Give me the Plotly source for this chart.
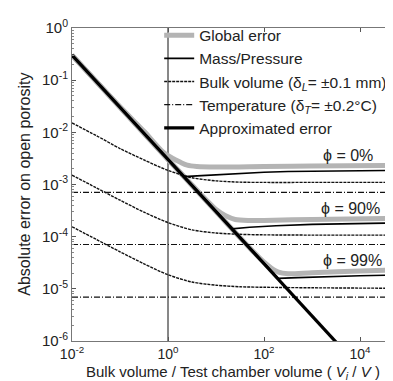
import plotly.graph_objects as go

# ---- data (log10 values) ----
approx_lx = [-2.0, 3.6]
approx_ly = [-0.52, -6.12]

# Global error (gray) for phi = 0 %, 90 %, 99 %
g0_lx = [-2.0, -1.0, -0.5, -0.1, 0.1, 0.25, 0.4, 0.6, 1.0, 2.0, 3.0, 4.86]
g0_ly = [-0.52, -1.51, -1.98, -2.38, -2.5, -2.57, -2.63, -2.655, -2.665, -2.655, -2.645, -2.635]
g90_lx = [-2.0, 0.0, 0.5, 0.8, 1.0, 1.2, 1.4, 1.7, 2.0, 3.0, 4.86]
g90_ly = [-0.52, -2.52, -3.01, -3.3, -3.48, -3.6, -3.67, -3.69, -3.69, -3.67, -3.65]
g99_lx = [-2.0, 1.0, 1.8, 2.0, 2.15, 2.3, 2.5, 3.0, 4.0, 4.86]
g99_ly = [-0.52, -3.52, -4.31, -4.49, -4.6, -4.68, -4.71, -4.69, -4.66, -4.63]

# Mass / Pressure
m0_lx = [-2.0, 0.33, 0.7, 1.25, 2.0, 2.5, 3.5, 4.86]
m0_ly = [-0.52, -2.85, -2.83, -2.8, -2.765, -2.75, -2.74, -2.73]
m90_lx = [-2.0, 1.33, 1.7, 2.25, 3.0, 4.0, 4.86]
m90_ly = [-0.52, -3.85, -3.82, -3.79, -3.765, -3.745, -3.735]
m99_lx = [-2.0, 2.3, 2.7, 3.2, 4.0, 4.86]
m99_ly = [-0.52, -4.8, -4.785, -4.77, -4.75, -4.735]

# Bulk volume
b_lx = [-2.0, -1.5, -1.0, -0.5, 0.0, 0.5, 1.0, 1.5, 2.0, 3.0, 4.86]
b0_ly = [-1.82, -2.06, -2.31, -2.53, -2.73, -2.87, -2.93, -2.955, -2.96, -2.96, -2.96]
b90_ly = [-2.82, -3.06, -3.3, -3.53, -3.73, -3.87, -3.93, -3.955, -3.965, -3.97, -3.97]
b99_ly = [-3.81, -4.05, -4.29, -4.52, -4.73, -4.87, -4.93, -4.96, -4.97, -4.98, -4.99]

# Temperature
t_lx = [-2.0, 4.86]
t0_ly = [-3.15, -3.15]
t90_ly = [-4.15, -4.15]
t99_ly = [-5.16, -5.16]

labels_text = ["\u03d5 = 0%", "\u03d5 = 90%", "\u03d5 = 99%"]
labels_lx = [3.75, 3.81, 3.85]
labels_ly = [-2.44, -3.46, -4.46]

x_tick_exp = [-2, 0, 2, 4]
y_tick_exp = [-6, -5, -4, -3, -2, -1, 0]

x_title = "Bulk volume / Test chamber volume ( <i>V</i><sub><i>i</i></sub> / <i>V</i> )"
y_title = "Absolute error on open porosity"

def p(v):
    return [10 ** a for a in v]

fig = go.Figure()

GRAY = "#b4b4b4"
for i, (lx, ly) in enumerate([(g0_lx, g0_ly), (g90_lx, g90_ly), (g99_lx, g99_ly)]):
    fig.add_trace(go.Scatter(x=p(lx), y=p(ly), mode="lines", line=dict(color=GRAY, width=5, shape="spline", smoothing=0.8),
                             name="Global error", legendgroup="g", showlegend=(i == 0), legendrank=1))

bulk_name = "Bulk volume (\u03b4<sub><i>L</i></sub>= \u00b10.1 mm)"
for i, ly in enumerate([b0_ly, b90_ly, b99_ly]):
    fig.add_trace(go.Scatter(x=p(b_lx), y=p(ly), mode="lines", line=dict(color="#111", width=1.4, dash="3px,1px", shape="spline", smoothing=0.8),
                             name=bulk_name, legendgroup="b", showlegend=(i == 0), legendrank=3))

temp_name = "Temperature (\u03b4<sub><i>T</i></sub>= \u00b10.2\u00b0C)"
for i, ly in enumerate([t0_ly, t90_ly, t99_ly]):
    fig.add_trace(go.Scatter(x=p(t_lx), y=p(ly), mode="lines", line=dict(color="#111", width=1.2, dash="6px,2px,1px,2px"),
                             name=temp_name, legendgroup="t", showlegend=(i == 0), legendrank=4))

for i, (lx, ly) in enumerate([(m0_lx, m0_ly), (m90_lx, m90_ly), (m99_lx, m99_ly)]):
    fig.add_trace(go.Scatter(x=p(lx), y=p(ly), mode="lines", line=dict(color="#000", width=1.6),
                             name="Mass/Pressure", legendgroup="m", showlegend=(i == 0), legendrank=2))

fig.add_trace(go.Scatter(x=p(approx_lx), y=p(approx_ly), mode="lines", line=dict(color="#000", width=3.2),
                         name="Approximated error", legendrank=5))

for t, lx, ly in zip(labels_text, labels_lx, labels_ly):
    fig.add_annotation(x=lx, y=ly, text=t, showarrow=False, font=dict(size=16, color="#222"))

# axis titles
fig.add_annotation(xref="paper", yref="paper", x=0.49, y=-0.1, yanchor="middle", xanchor="center",
                   text=x_title, showarrow=False, font=dict(size=15, color="#222"))
fig.add_annotation(xref="paper", yref="paper", x=-0.145, y=0.5, xanchor="center", yanchor="middle",
                   text=y_title, textangle=-90, showarrow=False, font=dict(size=16, color="#222"))

fig.add_shape(type="line", xref="x", yref="paper", x0=1, x1=1, y0=0, y1=1,
              line=dict(color="#111", width=1), layer="below")

minor_y = [k * 10.0 ** e for e in range(-6, 0) for k in range(2, 10)]

font = "Liberation Sans, Arial, sans-serif"
fig.update_layout(
    width=393, height=381,
    margin=dict(l=64, r=0, t=20, b=48),
    paper_bgcolor="white", plot_bgcolor="white",
    font=dict(family=font, size=14, color="#222"),
    showlegend=True,
    legend=dict(x=0.265, y=1.03, xanchor="left", yanchor="top", bgcolor="rgba(0,0,0,0)",
                font=dict(size=15.5, color="#222"), itemwidth=30, tracegroupgap=0),
    xaxis=dict(type="log", range=[-2, 4.854], tickvals=[10.0 ** e for e in x_tick_exp],
               ticktext=["10<sup>%d</sup>" % e for e in x_tick_exp],
               ticks="inside", ticklen=4, tickcolor="#555", showline=True, linecolor="#777", linewidth=1,
               mirror="ticks", showgrid=False, zeroline=False, tickfont=dict(size=14, color="#222")),
    yaxis=dict(type="log", range=[-6, 0], tickvals=[10.0 ** e for e in y_tick_exp],
               ticktext=["10<sup>%d</sup>" % e for e in y_tick_exp],
               ticks="inside", ticklen=4, tickcolor="#555", showline=True, linecolor="#777", linewidth=1,
               mirror=False, showgrid=False, zeroline=False, tickfont=dict(size=15, color="#222"),
               minor=dict(ticks="inside", ticklen=2, tickcolor="#888", tickvals=minor_y, showgrid=False)),
)

fig.write_html("out.html")
